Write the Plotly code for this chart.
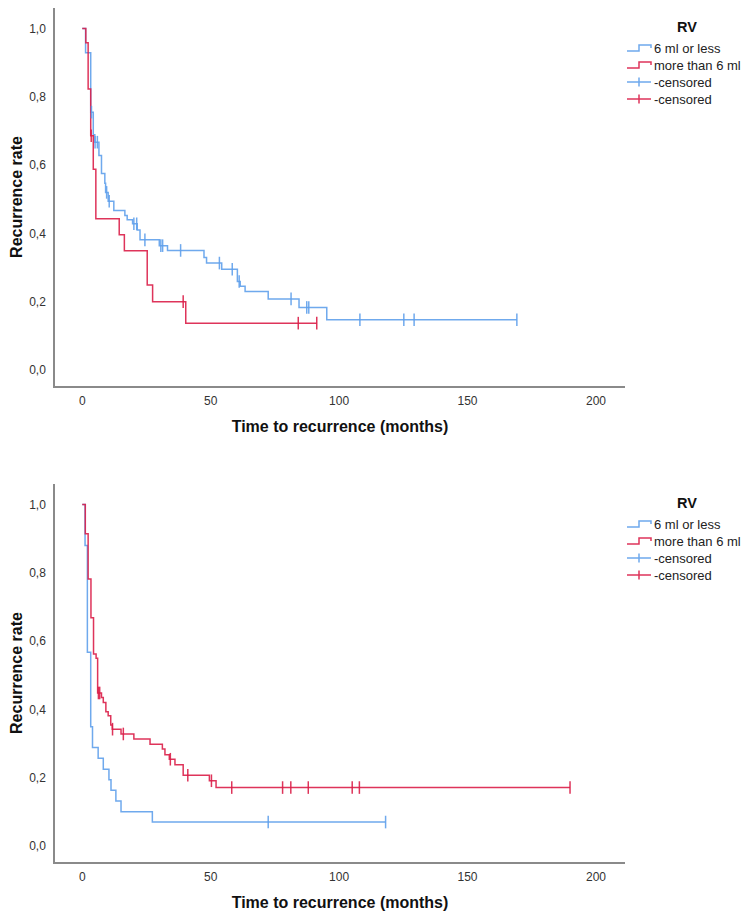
import numpy as np
import plotly.graph_objects as go

# ---------------- data ----------------
# Top chart
top_le6_t = [0, 1.3, 3.3, 4.3, 4.9, 6.5, 7.5, 8.8, 9.1, 10.1, 12.3, 16.6, 17.5, 19.6, 21.4,
             22.5, 30.0, 33.2, 47.4, 48.4, 54.3, 60.4, 61.5, 63.4, 72.4, 84.4, 95.2, 169.2]
top_le6_s = [1.0, 0.929, 0.755, 0.689, 0.667, 0.628, 0.575, 0.547, 0.52, 0.494, 0.467, 0.452,
             0.44, 0.428, 0.41, 0.381, 0.364, 0.35, 0.329, 0.313, 0.295, 0.259, 0.245, 0.23,
             0.208, 0.183, 0.147, 0.147]
top_le6_cens = [3.6, 5.0, 5.9, 9.5, 10.5, 20.1, 21.2, 24.4, 30.6, 31.3, 38.3, 53.4, 58.4,
                61.1, 81.3, 87.4, 88.2, 108.1, 125.2, 129.2, 169.2]

top_gt6_t = [0, 1.4, 2.3, 3.3, 4.3, 5.3, 14.4, 16.4, 25.3, 27.4, 40.3, 91.3]
top_gt6_s = [1.0, 0.958, 0.823, 0.686, 0.588, 0.443, 0.396, 0.349, 0.249, 0.2, 0.137, 0.137]
top_gt6_cens = [3.5, 39.3, 84.1, 91.3]

# Bottom chart
bot_le6_t = [0, 1.1, 2.0, 3.3, 4.0, 6.2, 8.2, 10.4, 11.2, 13.1, 15.1, 27.3, 118.1]
bot_le6_s = [1.0, 0.88, 0.567, 0.349, 0.288, 0.257, 0.225, 0.194, 0.163, 0.132, 0.10, 0.070, 0.070]
bot_le6_cens = [72.4, 118.1]

bot_gt6_t = [0, 1.2, 2.3, 3.4, 4.4, 5.4, 6.0, 7.5, 8.2, 9.2, 10.1, 11.1, 11.7, 15.1, 20.1,
             26.4, 31.2, 32.2, 33.9, 36.1, 39.3, 49.5, 52.1, 189.9]
bot_gt6_s = [1.0, 0.914, 0.782, 0.668, 0.562, 0.550, 0.448, 0.435, 0.420, 0.393, 0.381, 0.354,
             0.342, 0.328, 0.313, 0.298, 0.284, 0.267, 0.254, 0.238, 0.207, 0.191, 0.171, 0.171]
bot_gt6_cens = [6.3, 6.8, 11.8, 16.0, 34.3, 41.1, 50.3, 58.2, 78.0, 81.2, 88.0, 105.1, 107.9, 189.9]

group_names = ["6 ml or less", "more than 6 ml"]
censored_name = "-censored"
legend_title = "RV"
x_title = "Time to recurrence (months)"
y_title = "Recurrence rate"
x_ticks = [0, 50, 100, 150, 200]
y_ticks = [0.0, 0.2, 0.4, 0.6, 0.8, 1.0]

BLUE = "rgba(95,160,235,0.9)"
RED = "rgba(218,30,72,0.9)"
FONT = "Liberation Sans, Arial, sans-serif"


def surv_at(ts, ss, c):
    idx = np.searchsorted(np.array(ts), np.array(c), side="right") - 1
    return list(np.array(ss)[idx])


fig = go.Figure()

panels = [
    ("x", "y", top_le6_t, top_le6_s, top_le6_cens, top_gt6_t, top_gt6_s, top_gt6_cens),
    ("x2", "y2", bot_le6_t, bot_le6_s, bot_le6_cens, bot_gt6_t, bot_gt6_s, bot_gt6_cens),
]

shapes = []
annotations = []

# legend layout (pixel offsets from the top-right corner of each plot area)
legend_rows = [
    (group_names[0], BLUE, "step"),
    (group_names[1], RED, "step"),
    (censored_name, BLUE, "cens"),
    (censored_name, RED, "cens"),
]
row_offsets = [-40, -57, -74, -91]

for xa, ya, bt, bs, bc, rt, rs, rc in panels:
    fig.add_trace(go.Scatter(x=bt, y=bs, mode="lines", line=dict(color=BLUE, width=1.5, shape="hv"),
                             name=group_names[0], xaxis=xa, yaxis=ya, showlegend=False))
    fig.add_trace(go.Scatter(x=rt, y=rs, mode="lines", line=dict(color=RED, width=1.5, shape="hv"),
                             name=group_names[1], xaxis=xa, yaxis=ya, showlegend=False))
    fig.add_trace(go.Scatter(x=bc, y=surv_at(bt, bs, bc), mode="markers", name=censored_name,
                             marker=dict(symbol="line-ns", size=9, line=dict(color=BLUE, width=1.5)),
                             showlegend=False, xaxis=xa, yaxis=ya))
    fig.add_trace(go.Scatter(x=rc, y=surv_at(rt, rs, rc), mode="markers", name=censored_name,
                             marker=dict(symbol="line-ns", size=9, line=dict(color=RED, width=1.5)),
                             showlegend=False, xaxis=xa, yaxis=ya))

    xr = xa.replace("x", "x") + " domain"
    yr = ya + " domain"
    annotations.append(dict(text="<b>" + legend_title + "</b>", xref=xr, yref=yr, x=1, y=1,
                            xshift=62, yshift=-19, xanchor="center", yanchor="middle",
                            showarrow=False, font=dict(family=FONT, size=14.5, color="#111")))
    for (label, col, kind), r in zip(legend_rows, row_offsets):
        annotations.append(dict(text=label, xref=xr, yref=yr, x=1, y=1, xshift=27, yshift=r,
                                xanchor="left", yanchor="middle", showarrow=False,
                                font=dict(family=FONT, size=13, color="#222")))
        if kind == "step":
            path = f"M 2,{r-3} L 14,{r-3} L 14,{r+3} L 26,{r+3} L 26,{r}"
        else:
            path = f"M 2,{r} L 26,{r} M 14,{r-4.5} L 14,{r+4.5}"
        shapes.append(dict(type="path", xref=xr, yref=yr, xsizemode="pixel", ysizemode="pixel",
                           xanchor=1, yanchor=1, path=path, line=dict(color=col, width=1.5)))

axis_common = dict(showline=True, linecolor="#8a8a8a", linewidth=1.5, showgrid=False,
                   zeroline=False, ticks="", tickfont=dict(family=FONT, size=12, color="#333"))
xcommon = dict(axis_common, range=[-10.6, 211.3], tickvals=x_ticks,
               title=dict(text="<b>" + x_title + "</b>", font=dict(family=FONT, size=16, color="#111"),
                          standoff=14),
               ticklabelstandoff=3)
ycommon = dict(axis_common, range=[-0.047, 1.06], tickvals=y_ticks, tickformat=".1f",
               title=dict(text="<b>" + y_title + "</b>", font=dict(family=FONT, size=16, color="#111"),
                          standoff=6),
               ticklabelstandoff=5)

fig.update_layout(
    width=743, height=910,
    margin=dict(l=47, r=126, t=0, b=56),
    paper_bgcolor="white", plot_bgcolor="white",
    separators=",.",
    showlegend=False,
    xaxis=dict(xcommon, domain=[0, 1], anchor="y"),
    yaxis=dict(ycommon, domain=[0.5574, 1.0], anchor="x"),
    xaxis2=dict(xcommon, domain=[0, 1], anchor="y2"),
    yaxis2=dict(ycommon, domain=[0.0, 0.4426], anchor="x2"),
    shapes=shapes,
    annotations=annotations,
    font=dict(family=FONT),
)

fig.write_html("out.html")
